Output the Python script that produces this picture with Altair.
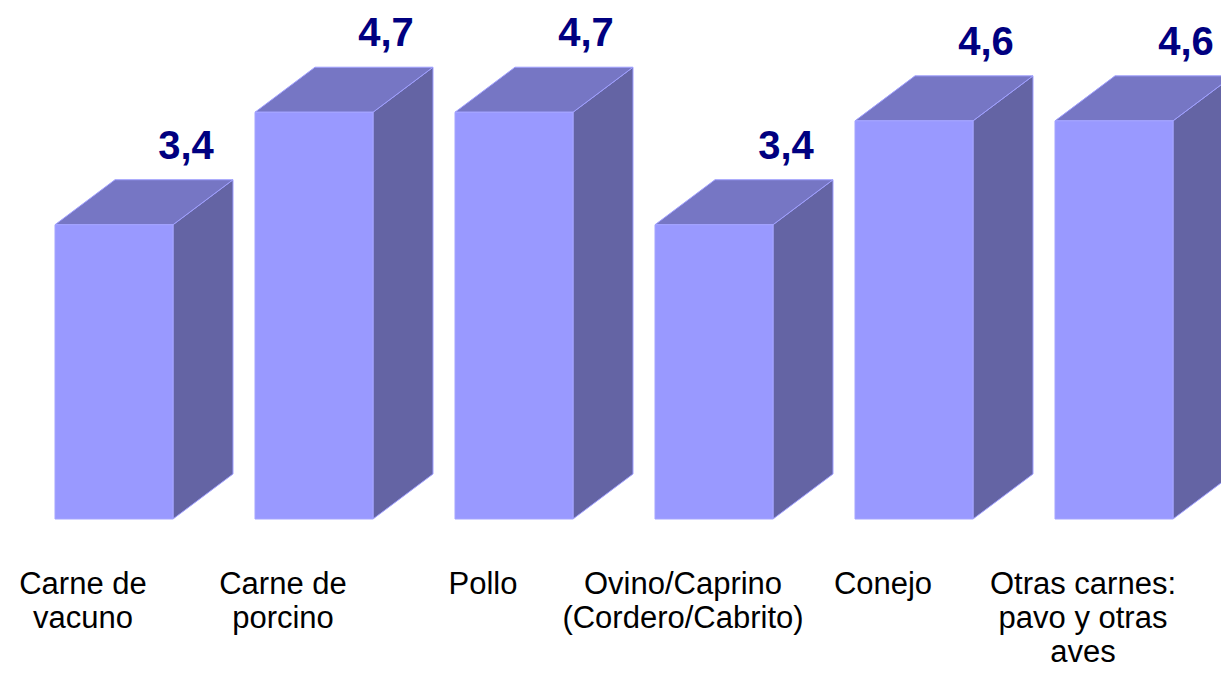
import altair as alt
import pandas as pd

# ---- data ----
categories = [
    "Carne de\nvacuno",
    "Carne de\nporcino",
    "Pollo",
    "Ovino/Caprino\n(Cordero/Cabrito)",
    "Conejo",
    "Otras carnes:\npavo y otras\naves",
]
values = [3.4, 4.7, 4.7, 3.4, 4.6, 4.6]
value_labels = [f"{v:.1f}".replace(".", ",") for v in values]

# ---- geometry (in scale units) ----
FRONT_W = 0.59   # width of front face in category units
DEPTH_X = 0.30   # horizontal depth
DEPTH_Y = 0.52   # vertical depth, value units

front_rows, side_rows, top_rows, lab_rows, cat_rows = [], [], [], [], []
for i, (c, v, t) in enumerate(zip(categories, values, value_labels)):
    a = i
    b = i + FRONT_W
    front_rows.append({"bar": i, "x": a, "x2": b, "y": 0, "y2": v})
    side_rows += [
        {"bar": i, "x": b, "y": 0, "y2": v},
        {"bar": i, "x": b + DEPTH_X, "y": DEPTH_Y, "y2": v + DEPTH_Y},
    ]
    top_rows += [
        {"bar": i, "x": a, "y": v, "y2": v},
        {"bar": i, "x": a + DEPTH_X, "y": v, "y2": v + DEPTH_Y},
        {"bar": i, "x": b, "y": v, "y2": v + DEPTH_Y},
        {"bar": i, "x": b + DEPTH_X, "y": v + DEPTH_Y, "y2": v + DEPTH_Y},
    ]
    lab_rows.append({"bar": i, "x": i + 0.655, "y": v + 0.76, "t": t})
    cat_rows.append({"bar": i, "x": i + 0.14, "y": -0.867, "t": c})

xs = alt.Scale(domain=[-0.235, 5.83], nice=False, zero=False)
ys = alt.Scale(domain=[-1.733, 5.904], nice=False, zero=False)
noax = None

side = alt.Chart(pd.DataFrame(side_rows)).mark_area(
    color="#6464A4", stroke="#A0A0FF", strokeWidth=1, interpolate="linear"
).encode(
    x=alt.X("x:Q", scale=xs, axis=noax),
    y=alt.Y("y:Q", scale=ys, axis=noax),
    y2="y2:Q",
    detail="bar:N",
)

top = alt.Chart(pd.DataFrame(top_rows)).mark_area(
    color="#7676C4", stroke="#A0A0FF", strokeWidth=1, interpolate="linear"
).encode(
    x=alt.X("x:Q", scale=xs, axis=noax),
    y=alt.Y("y:Q", scale=ys, axis=noax),
    y2="y2:Q",
    detail="bar:N",
)

front = alt.Chart(pd.DataFrame(front_rows)).mark_rect(
    color="#9999FF", stroke="#A5A5FF", strokeWidth=1
).encode(
    x=alt.X("x:Q", scale=xs, axis=noax),
    x2="x2:Q",
    y=alt.Y("y:Q", scale=ys, axis=noax),
    y2="y2:Q",
)

vlabels = alt.Chart(pd.DataFrame(lab_rows)).mark_text(
    font="Liberation Sans", fontSize=40, fontWeight="bold", color="#000080",
    align="center", baseline="alphabetic",
).encode(
    x=alt.X("x:Q", scale=xs, axis=noax),
    y=alt.Y("y:Q", scale=ys, axis=noax),
    text="t:N",
)

clabels = alt.Chart(pd.DataFrame(cat_rows)).mark_text(
    font="Liberation Sans", fontSize=31, color="#000000",
    align="center", baseline="alphabetic", lineBreak="\n", lineHeight=34,
).encode(
    x=alt.X("x:Q", scale=xs, axis=noax),
    y=alt.Y("y:Q", scale=ys, axis=noax),
    text="t:N",
)

chart = alt.layer(side, top, front, vlabels, clabels).properties(
    width=1213, height=661, padding=0, background="#FFFFFF",
    autosize=alt.AutoSizeParams(type="none"),
).configure_view(stroke=None)

chart.save("out.html", embed_options={"renderer": "svg", "actions": False})
